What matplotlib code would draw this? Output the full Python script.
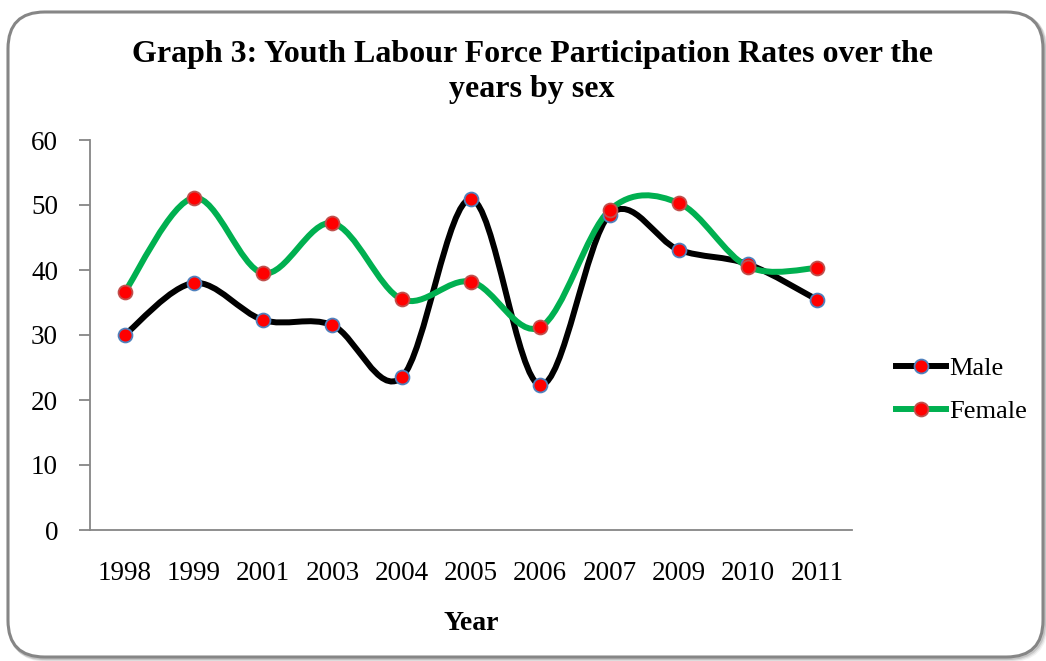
import matplotlib
matplotlib.use("Agg")
import matplotlib.pyplot as plt
from matplotlib.path import Path
from matplotlib.patches import PathPatch, FancyBboxPatch
from matplotlib.lines import Line2D
import numpy as np

years = ["1998", "1999", "2001", "2003", "2004", "2005", "2006", "2007", "2009", "2010", "2011"]
male = [30.0, 38.0, 32.3, 31.5, 23.5, 50.9, 22.3, 48.5, 43.1, 40.9, 35.4]
female = [36.6, 51.1, 39.5, 47.2, 35.5, 38.2, 31.2, 49.2, 50.3, 40.5, 40.3]

title = "Graph 3: Youth Labour Force Participation Rates over the\nyears by sex"
serif = ["Liberation Serif", "DejaVu Serif"]

W, H = 1046, 661
fig = plt.figure(figsize=(W / 100, H / 100), dpi=100)
fig.patch.set_facecolor("white")


def fx(px):
    return px / W


def fy(py):
    return 1 - py / H


# rounded chart-area frame with a soft shadow
for i, a in enumerate([0.05, 0.08, 0.12]):
    off = 3 - i
    sh = FancyBboxPatch((fx(8 + off), fy(657 + off)), fx(1035), 1 - fy(645),
                        boxstyle="round,pad=0,rounding_size=0.035",
                        transform=fig.transFigure, facecolor="none",
                        edgecolor=(0, 0, 0, a), linewidth=3, zorder=-3,
                        mutation_aspect=W / H)
    fig.patches.append(sh)
frame = FancyBboxPatch((fx(8), fy(657)), fx(1035), 1 - fy(645),
                       boxstyle="round,pad=0,rounding_size=0.035",
                       transform=fig.transFigure, facecolor="white",
                       edgecolor="#868686", linewidth=2.2, zorder=-2,
                       mutation_aspect=W / H)
fig.patches.append(frame)

ax = fig.add_axes([fx(90), fy(530), fx(852 - 90), fy(140) - fy(530)])
ax.set_facecolor("none")
ax.set_zorder(2)

x = np.arange(len(years))


def smooth_path(xs, ys):
    pts = np.column_stack([xs, ys]).astype(float)
    n = len(pts)
    verts = [pts[0]]
    codes = [Path.MOVETO]
    for i in range(n - 1):
        p0 = pts[i - 1] if i > 0 else pts[i]
        p1 = pts[i]
        p2 = pts[i + 1]
        p3 = pts[i + 2] if i + 2 < n else pts[i + 1]
        c1 = p1 + (p2 - p0) / 6.0
        c2 = p2 - (p3 - p1) / 6.0
        verts += [c1, c2, p2]
        codes += [Path.CURVE4] * 3
    return Path(verts, codes)


series = [("Male", male, "#000000", "#4f81bd"), ("Female", female, "#00b050", "#c0504d")]
for name, vals, col, edge in series:
    ax.add_patch(PathPatch(smooth_path(x, vals), facecolor="none", edgecolor=col,
                           linewidth=4.3, capstyle="round", joinstyle="round", zorder=3))
for name, vals, col, edge in series:
    ax.plot(x, vals, linestyle="none", marker="o", markersize=10,
            markerfacecolor="#ff0000", markeredgecolor=edge, markeredgewidth=1.3, zorder=4)

ax.set_xlim(-0.5, len(years) - 0.5)
ax.set_ylim(0, 60)
ax.set_yticks(range(0, 61, 10))
ax.set_xticks(x)
ax.set_xticklabels(years)
for s in ["top", "right"]:
    ax.spines[s].set_visible(False)
for s in ["left", "bottom"]:
    ax.spines[s].set_color("#868686")
    ax.spines[s].set_linewidth(1.3)
ax.tick_params(axis="y", direction="out", length=8, width=1.3, color="#868686",
               pad=15, labelsize=19.5)
ax.tick_params(axis="x", length=0, pad=22, labelsize=19.5)
for lab in ax.get_xticklabels() + ax.get_yticklabels():
    lab.set_fontfamily(serif)

ax.set_xlabel("Year", fontsize=20, fontweight="bold", family=serif, labelpad=18)
fig.text(fx(532), fy(72), title, ha="center", va="center", fontsize=23,
         fontweight="bold", family=serif, linespacing=1.3)

handles = [Line2D([0], [0], color=col, linewidth=4.3, marker="o", markersize=10,
                  markerfacecolor="#ff0000", markeredgecolor=edge, markeredgewidth=1.3)
           for _, _, col, edge in series]
fig.legend(handles, [s[0] for s in series], loc="center left",
           bbox_to_anchor=(fx(885), fy(390)), frameon=False,
           prop={"family": serif, "size": 19}, handlelength=1.9,
           handletextpad=0.15, labelspacing=0.75, borderaxespad=0)

fig.savefig("out.png", dpi=100, facecolor="white")
